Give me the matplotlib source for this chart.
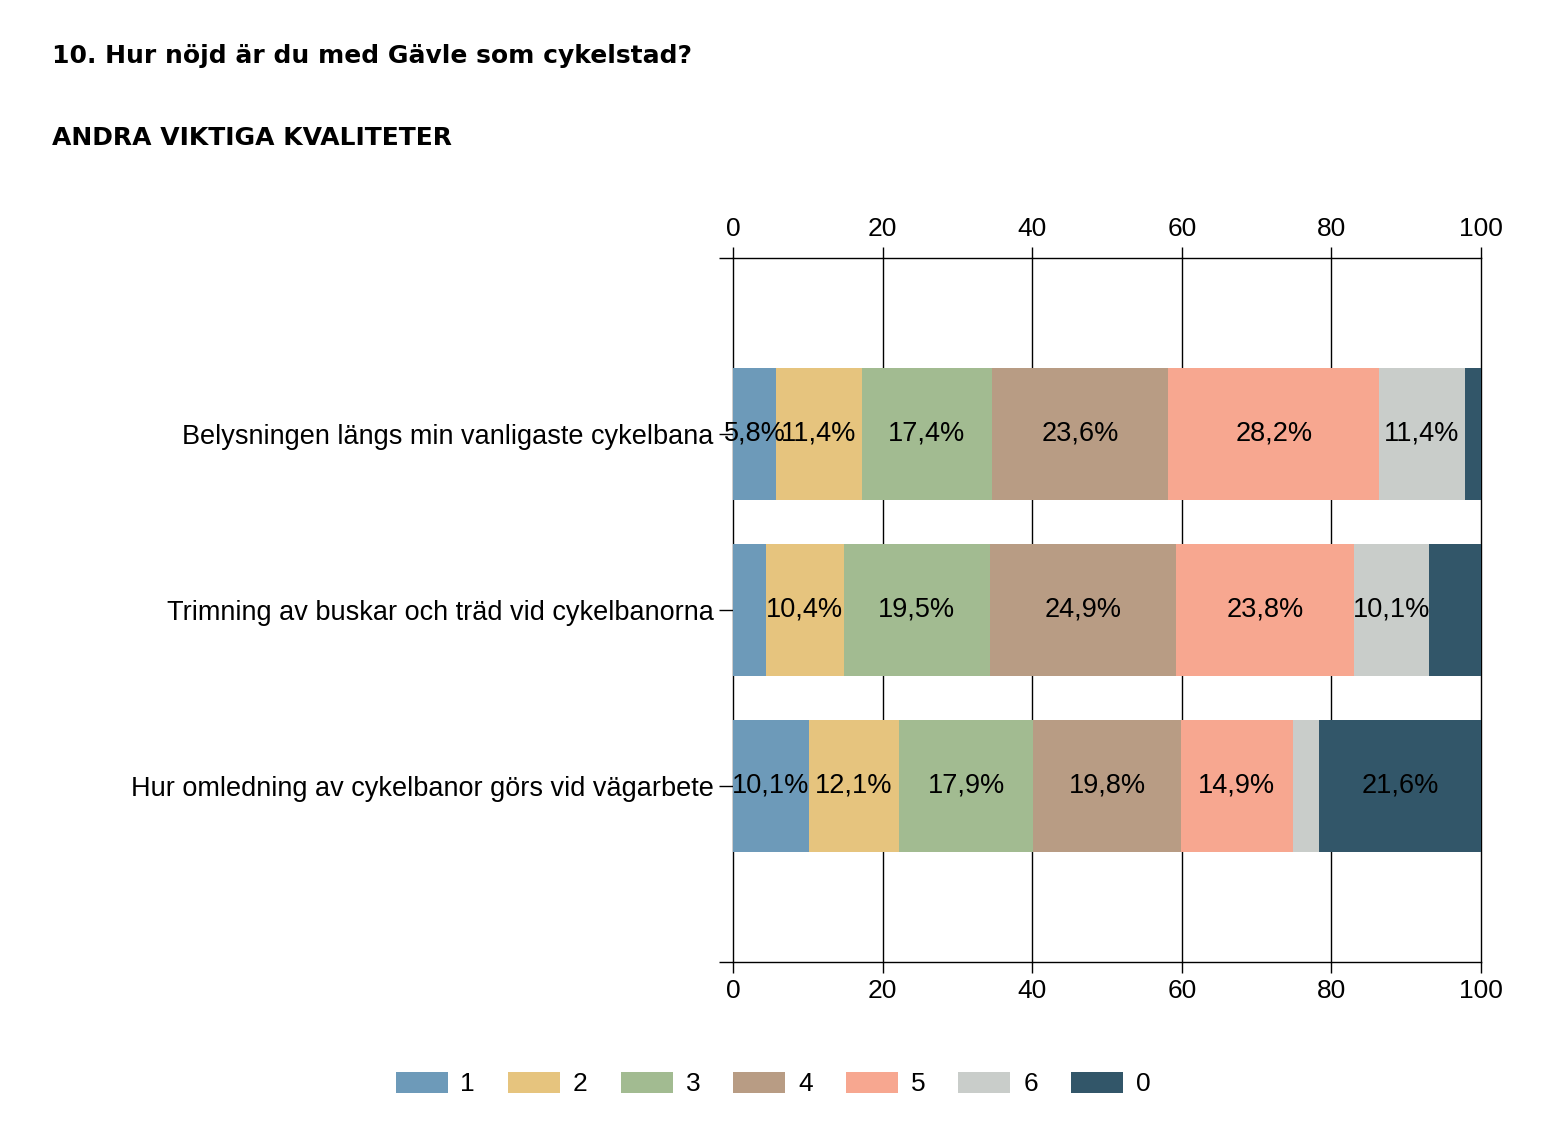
import matplotlib
matplotlib.use("Agg")
import matplotlib.pyplot as plt
import numpy as np

# data
questions = [
    "Belysningen längs min vanligaste cykelbana",
    "Trimning av buskar och träd vid cykelbanorna",
    "Hur omledning av cykelbanor görs vid vägarbete",
]
answers = ["1", "2", "3", "4", "5", "6", "0"]
share_1 = [5.8, 4.4, 10.1]
share_2 = [11.4, 10.4, 12.1]
share_3 = [17.4, 19.5, 17.9]
share_4 = [23.6, 24.9, 19.8]
share_5 = [28.2, 23.8, 14.9]
share_6 = [11.4, 10.1, 3.6]
share_0 = [2.2, 6.9, 21.6]
# which segments carry a printed label in the reference
show_1 = [True, False, True]
show_2 = [True, True, True]
show_3 = [True, True, True]
show_4 = [True, True, True]
show_5 = [True, True, True]
show_6 = [True, True, False]
show_0 = [False, False, True]

colors = ["#6d9ab9", "#e6c47e", "#a2bb91", "#b89c84", "#f7a790", "#c9cdca", "#325669"]

series = [share_1, share_2, share_3, share_4, share_5, share_6, share_0]
shows = [show_1, show_2, show_3, show_4, show_5, show_6, show_0]

plt.rcParams['font.family'] = ['Liberation Sans', 'DejaVu Sans']

fig = plt.figure(figsize=(15.62, 11.48), dpi=100)
ax = fig.add_axes([733 / 1562, 1 - 962 / 1148, 748 / 1562, 704 / 1148])

y = np.arange(len(questions))
left = np.zeros(len(questions))
for name, vals, show, c in zip(answers, series, shows, colors):
    vals = np.array(vals)
    ax.barh(y, vals, left=left, height=0.75, color=c, label=name, zorder=2)
    for yi, (l, v, s) in enumerate(zip(left, vals, show)):
        if s:
            ax.text(l + v / 2, yi, f"{v:.1f}%".replace(".", ","), ha="center",
                    va="center", fontsize=19.5, color="black", zorder=3)
    left += vals

ax.set_xlim(0, 100)
ax.set_ylim(3, -1)
ax.set_xticks(np.arange(0, 101, 20))
ax.xaxis.set_ticks_position("both")
ax.tick_params(axis="x", labeltop=True, labelbottom=True, labelsize=19,
               length=8, width=1, direction="out", pad=4)
ax.tick_params(axis="x", which="major", bottom=True)
for lbl in ax.xaxis.get_ticklabels():
    pass
ax.grid(axis="x", color="black", linewidth=1, zorder=0)
ax.set_axisbelow(True)
for line in ax.get_xgridlines():
    line.set_clip_on(False)

# y ticks: category labels plus bare ticks at the limits
ax.set_yticks([-1, 0, 1, 2, 3])
ax.set_yticklabels([""] + questions + [""])
ax.tick_params(axis="y", labelsize=19.5, length=10, width=1, pad=4)

for side in ["left", "right"]:
    ax.spines[side].set_visible(False)
for side in ["top", "bottom"]:
    ax.spines[side].set_linewidth(1)

fig.text(52 / 1562, 1 - 56 / 1148, "10. Hur nöjd är du med Gävle som cykelstad?",
         fontsize=18, fontweight="bold", family="DejaVu Sans", va="center", ha="left")
fig.text(52 / 1562, 1 - 138 / 1148, "ANDRA VIKTIGA KVALITETER",
         fontsize=18, fontweight="bold", family="DejaVu Sans", va="center", ha="left")

fig.legend(loc="center", bbox_to_anchor=(773 / 1562, 1 - 1084 / 1148), ncol=7,
           frameon=False, fontsize=19, handlelength=1.97, handleheight=0.87,
           handletextpad=0.49, columnspacing=1.25)

fig.savefig("out.png", dpi=100)
